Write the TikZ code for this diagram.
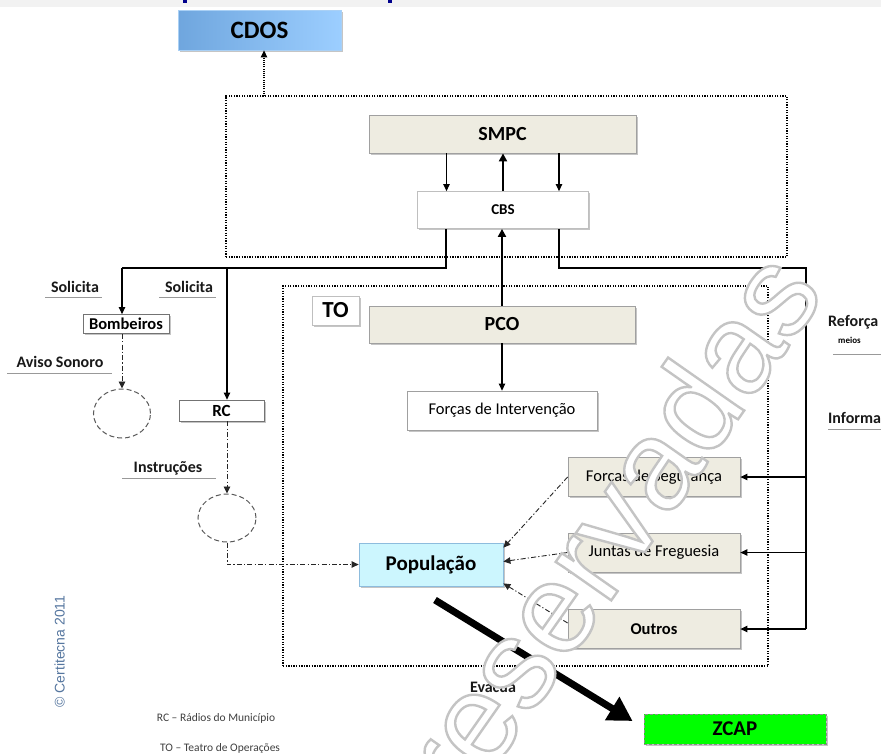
\documentclass[tikz,border=0pt]{standalone}
\usepackage{fontspec}
\setmainfont{Carlito}
\newfontfamily\arialfont{Liberation Sans}
\usetikzlibrary{arrows.meta,shapes.geometric,shadows,calc}

\definecolor{tan}{HTML}{EEECE1}
\definecolor{boxline}{HTML}{A0A0A0}
\definecolor{cdosL}{HTML}{6FA6DE}
\definecolor{cdosR}{HTML}{9CCEFF}
\definecolor{cdosB}{HTML}{A9D0F5}
\definecolor{popfill}{HTML}{CCF6FE}
\definecolor{popline}{HTML}{8DBCDD}
\definecolor{zcapfill}{HTML}{00FF00}
\definecolor{copyblue}{HTML}{55769F}

% outlined lettering: white fill, grey stroke
\newcommand\hollowtext[1]{\special{pdf:literal direct 2 Tr 2.4 w 0.77 0.77 0.77 RG}#1\special{pdf:literal direct 0 Tr}}

\begin{document}
\begin{tikzpicture}[x=1pt,y=-1pt,
  fs/.style={font=\fontsize{#1}{#1}\selectfont},
  fsb/.style={font=\fontsize{#1}{#1}\selectfont\bfseries},
  box/.style={draw=boxline, line width=0.8pt, inner sep=0pt,
    drop shadow={shadow xshift=1.6pt, shadow yshift=-1.6pt, fill=black!50, opacity=0.45}},
  tanbox/.style={box, fill=tan},
  whitebox/.style={box, fill=white},
  conn/.style={line width=1.1pt, -{Triangle[length=7pt,width=6.5pt]}},
  plain/.style={line width=1.1pt},
  bigconn/.style={line width=2.6pt, -{Triangle[length=8pt,width=8pt]}},
  dotconn/.style={line width=1.3pt, dash pattern=on 1.1pt off 1.1pt, -{Triangle[length=7pt,width=6.5pt]}},
  dashdot/.style={line width=0.9pt, black!85, dash pattern=on 5pt off 2.2pt on 1.2pt off 2.2pt,
    -{Triangle[length=7pt,width=6.5pt]}},
  dotbox/.style={draw, line width=1.6pt, dash pattern=on 1.3pt off 1.3pt, inner sep=0pt},
  ring/.style={ellipse, draw=black!65, line width=1pt, dash pattern=on 5pt off 3pt, inner sep=0pt},
  uline/.style={draw=black!40, line width=0.8pt},
  lab/.style={fsb=16, text=black!90, inner sep=0pt},
  evac/.style={line width=7pt, -{Triangle[length=24pt,width=26pt]}}
]
\path[clip] (0,0) rectangle (881,753);
\fill[white] (0,0) rectangle (881,753);

% cut-off heading strip
\fill[black!5] (0,0) rectangle (881,6.5);
\fill[blue!55!black] (183,0) rectangle (187,3);
\fill[blue!55!black] (388,0) rectangle (392,3);

% top level
\node[box, shade, left color=cdosL, right color=cdosR, draw=cdosB,
      minimum width=163pt, minimum height=40pt, fsb=25] (cdos) at (259.5,30) {CDOS};

% municipal group
\node[dotbox, minimum width=561pt, minimum height=161pt] (grp) at (506.5,176.5) {};
\node[tanbox, minimum width=267pt, minimum height=38pt, fsb=20] (smpc) at (502.5,134) {SMPC};
\node[whitebox, draw=black!25, minimum width=171pt, minimum height=37pt, fsb=15] (cbs) at (503,210) {CBS};

% theatre of operations
\node[dotbox, minimum width=485pt, minimum height=380pt] (to) at (525.5,476) {};
\node[whitebox, draw=black!25, minimum width=47pt, minimum height=29pt, fsb=23] (tolabel) at (335.5,310.5) {TO};
\node[tanbox, minimum width=266pt, minimum height=37pt, fsb=20] (pco) at (502,324.5) {PCO};
\node[whitebox, minimum width=190pt, minimum height=39pt, fs=16.5] (fint) at (502,410.5) {Forças de Intervenção};
\node[tanbox, minimum width=172pt, minimum height=39pt, fs=16.5] (fseg) at (654,477) {Forças de Segurança};
\node[tanbox, minimum width=172pt, minimum height=39pt, fs=16.5] (jfreg) at (654,552.5) {Juntas de Freguesia};
\node[tanbox, minimum width=172pt, minimum height=39pt, fsb=16.5] (outros) at (654,629) {Outros};
\node[box, fill=popfill, draw=popline, minimum width=144pt, minimum height=43pt, fsb=21] (pop) at (431,564.5) {População};

% left branch
\node[whitebox, draw=black!55, minimum width=86pt, minimum height=19pt, fsb=16.5] (bomb) at (126,324) {Bombeiros};
\node[whitebox, draw=black!55, minimum width=85pt, minimum height=21pt, fsb=17] (rc) at (221.5,410.5) {RC};
\node[ring, minimum width=57pt, minimum height=49pt] (ring1) at (122,413.5) {};
\node[ring, minimum width=58pt, minimum height=48pt] (ring2) at (227,518) {};

% reception zone
\node[box, fill=zcapfill, draw=black!45, dash pattern=on 3pt off 2pt,
      minimum width=182pt, minimum height=30pt, fsb=21] (zcap) at (735,729) {ZCAP};

% junction points
\coordinate (cdosj) at (264,96);
\coordinate (lj) at (122,268);
\coordinate (rcj) at (227,268);
\coordinate (rj) at (806,268);
\coordinate (rb) at (806,629);
\coordinate (evs) at (435,600);

% connectors
\draw[dotconn] (cdosj) -- (cdosj |- cdos.south);
\draw[conn] ([xshift=-56pt]smpc.south) -- ([xshift=-56pt]smpc.south |- cbs.north);
\draw[conn] ([xshift=56.5pt]smpc.south) -- ([xshift=56.5pt]smpc.south |- cbs.north);
\draw[bigconn] (cbs.north) -- (cbs.north |- smpc.south);
\draw[bigconn] (pco.north) -- (pco.north |- cbs.south);
\draw[conn] (pco.south) -- (fint.north);

\draw[plain] ([xshift=-57pt]cbs.south) |- (lj);
\draw[conn] (lj) -- (lj |- bomb.north);
\draw[conn] (rcj) -- (rcj |- rc.north);

\draw[plain] ([xshift=56pt]cbs.south) |- (rj) -- (rb);
\draw[conn] (fseg.east -| rj) -- (fseg.east);
\draw[conn] (jfreg.east -| rj) -- (jfreg.east);
\draw[conn] (outros.east -| rj) -- (outros.east);

\draw[dashdot] (bomb.south -| ring1.north) -- (ring1.north);
\draw[dashdot] (rc.south -| ring2.north) -- (ring2.north);
\draw[dashdot] (ring2.south) |- (pop.west);
\draw[dashdot] (fseg.west) -- ([yshift=-5pt]pop.north east);
\draw[dashdot] (jfreg.west) -- ([yshift=3pt]pop.east);
\draw[dashdot] ([yshift=6pt]outros.west) -- ([yshift=3pt]pop.south east);

\draw[evac] (evs) -- ([xshift=-11pt,yshift=8pt]zcap.west);

% labels
\node[lab] (sol1) at (75,287) {Solicita};
\draw[uline] (45,297) -- (102,297);
\node[lab] (sol2) at (189,287) {Solicita};
\draw[uline] (159,297) -- (216,297);
\node[lab] (aviso) at (60,362) {Aviso Sonoro};
\draw[uline] (7,373) -- (112,373);
\node[lab] (instr) at (168,468) {Instruções};
\draw[uline] (122,478) -- (216,478);
\node[lab, anchor=west] (reforca) at (828,322) {Reforça};
\node[fsb=9, inner sep=0pt, anchor=west] (meios) at (838,340) {meios};
\draw[uline] (833,354) -- (881,354);
\node[lab, anchor=west] (informa) at (828,418) {Informa};
\draw[uline] (828,429) -- (881,429);
\node[lab, fill=white, inner sep=1pt] (evacua) at (493,687) {Evacua};

% legend and credit
\node[fs=11.5, text=black!75] (fn1) at (216,718) {RC – Rádios do Município};
\node[fs=11.5, text=black!75] (fn2) at (220,748) {TO – Teatro de Operações};
\node[font=\arialfont\fontsize{14}{14}\selectfont, text=copyblue, rotate=90] (copy) at (59.5,651.5) {© Certitecna 2011};

% watermark
\node[text=white, rotate=55, inner sep=0pt, font=\arialfont\fontsize{128}{128}\selectfont]
  (wm) at (607.5,526) {\hollowtext{reservadas}};
\end{tikzpicture}
\end{document}
